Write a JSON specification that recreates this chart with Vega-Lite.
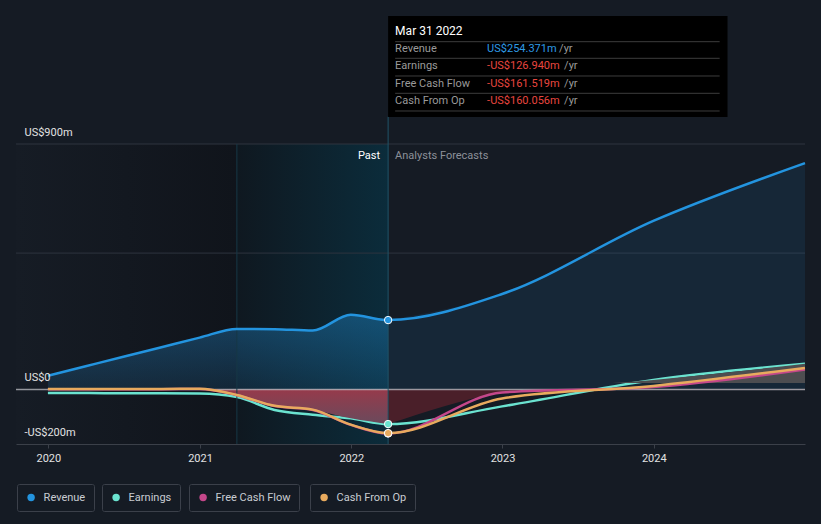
{
  "$schema": "https://vega.github.io/schema/vega-lite/v6.json",
  "width": 789,
  "height": 300,
  "autosize": {"type": "none"},
  "padding": {"left": 16, "top": 144, "right": 16, "bottom": 80},
  "background": "#151b24",
  "config": {
    "font": "Roboto",
    "view": {"stroke": null},
    "legend": {
      "orient": "none",
      "direction": "horizontal",
      "title": null,
      "symbolType": "circle",
      "symbolSize": 55,
      "symbolStrokeWidth": 0,
      "labelColor": "#c8ccd2",
      "labelFontSize": 11,
      "labelFont": "Roboto",
      "labelExpr": "datum.label + ' '",
      "strokeColor": "#3b404a",
      "padding": 8,
      "cornerRadius": 2,
      "symbolOffset": 0.6,
      "labelOffset": 7,
      "legendY": 340
    }
  },
  "datasets": {
    "fin": [
      {"series": "Revenue", "date": "2019-12-31", "value": 50},
      {"series": "Revenue", "date": "2020-03-31", "value": 85},
      {"series": "Revenue", "date": "2020-06-30", "value": 120},
      {"series": "Revenue", "date": "2020-09-30", "value": 155},
      {"series": "Revenue", "date": "2020-12-31", "value": 190},
      {"series": "Revenue", "date": "2021-03-31", "value": 222},
      {"series": "Revenue", "date": "2021-06-30", "value": 221},
      {"series": "Revenue", "date": "2021-09-30", "value": 216},
      {"series": "Revenue", "date": "2021-12-31", "value": 274},
      {"series": "Revenue", "date": "2022-03-31", "value": 254.371},
      {"series": "Revenue", "date": "2022-12-31", "value": 350},
      {"series": "Revenue", "date": "2023-12-31", "value": 618},
      {"series": "Revenue", "date": "2024-12-31", "value": 830},
      {"series": "Earnings", "date": "2019-12-31", "value": -13},
      {"series": "Earnings", "date": "2020-03-31", "value": -13},
      {"series": "Earnings", "date": "2020-06-30", "value": -14},
      {"series": "Earnings", "date": "2020-09-30", "value": -14},
      {"series": "Earnings", "date": "2020-12-31", "value": -15},
      {"series": "Earnings", "date": "2021-03-31", "value": -28},
      {"series": "Earnings", "date": "2021-06-30", "value": -75},
      {"series": "Earnings", "date": "2021-09-30", "value": -93},
      {"series": "Earnings", "date": "2021-12-31", "value": -106},
      {"series": "Earnings", "date": "2022-03-31", "value": -126.94},
      {"series": "Earnings", "date": "2022-12-31", "value": -62},
      {"series": "Earnings", "date": "2023-12-31", "value": 35},
      {"series": "Earnings", "date": "2024-12-31", "value": 94},
      {"series": "Free Cash Flow", "date": "2019-12-31", "value": 1},
      {"series": "Free Cash Flow", "date": "2020-03-31", "value": 1},
      {"series": "Free Cash Flow", "date": "2020-06-30", "value": 1},
      {"series": "Free Cash Flow", "date": "2020-09-30", "value": 1},
      {"series": "Free Cash Flow", "date": "2020-12-31", "value": 2},
      {"series": "Free Cash Flow", "date": "2021-03-31", "value": -21},
      {"series": "Free Cash Flow", "date": "2021-06-30", "value": -61},
      {"series": "Free Cash Flow", "date": "2021-09-30", "value": -75},
      {"series": "Free Cash Flow", "date": "2021-12-31", "value": -130},
      {"series": "Free Cash Flow", "date": "2022-03-31", "value": -161.519},
      {"series": "Free Cash Flow", "date": "2022-12-31", "value": -11},
      {"series": "Free Cash Flow", "date": "2023-12-31", "value": 9},
      {"series": "Free Cash Flow", "date": "2024-12-31", "value": 73},
      {"series": "Cash From Op", "date": "2019-12-31", "value": 2},
      {"series": "Cash From Op", "date": "2020-03-31", "value": 2},
      {"series": "Cash From Op", "date": "2020-06-30", "value": 2},
      {"series": "Cash From Op", "date": "2020-09-30", "value": 2},
      {"series": "Cash From Op", "date": "2020-12-31", "value": 3},
      {"series": "Cash From Op", "date": "2021-03-31", "value": -20},
      {"series": "Cash From Op", "date": "2021-06-30", "value": -60},
      {"series": "Cash From Op", "date": "2021-09-30", "value": -74},
      {"series": "Cash From Op", "date": "2021-12-31", "value": -129},
      {"series": "Cash From Op", "date": "2022-03-31", "value": -160.056},
      {"series": "Cash From Op", "date": "2022-12-31", "value": -33},
      {"series": "Cash From Op", "date": "2023-12-31", "value": 13},
      {"series": "Cash From Op", "date": "2024-12-31", "value": 79}
    ],
    "tip": [
      {"row": 1, "label": "Revenue", "val": "US$254.371m"},
      {"row": 2, "label": "Earnings", "val": "-US$126.940m"},
      {"row": 3, "label": "Free Cash Flow", "val": "-US$161.519m"},
      {"row": 4, "label": "Cash From Op", "val": "-US$160.056m"}
    ]
  },
  "layer": [
    {
      "data": {"name": "fin"},
      "layer": [
        {
          "data": {"values": [{}]},
          "mark": {"type": "rect", "fill": {"gradient": "linear", "x1": 0, "y1": 0, "x2": 1, "y2": 0, "stops": [{"offset": 0, "color": "#161c25"}, {"offset": 1, "color": "#10141b"}]}},
          "encoding": {
            "x": {"datum": {"year": 2019, "month": 10, "date": 15, "utc": true}, "type": "temporal"},
            "x2": {"datum": {"year": 2021, "month": 3, "date": 31, "utc": true}},
            "y": {"datum": 900, "type": "quantitative"},
            "y2": {"datum": -200}
          }
        },
        {
          "data": {"values": [{}]},
          "mark": {"type": "rect", "fill": {"gradient": "linear", "x1": 0, "y1": 0, "x2": 1, "y2": 0, "stops": [{"offset": 0, "color": "#0f1820"}, {"offset": 1, "color": "#0b2c3b"}]}},
          "encoding": {
            "x": {"datum": {"year": 2021, "month": 3, "date": 31, "utc": true}, "type": "temporal"},
            "x2": {"datum": {"year": 2022, "month": 3, "date": 31, "utc": true}},
            "y": {"datum": 900, "type": "quantitative"},
            "y2": {"datum": -200}
          }
        },
        {
          "data": {"values": [{}]},
          "mark": {"type": "rule", "color": "#2e343e", "strokeWidth": 1},
          "encoding": {"y": {"datum": 900, "type": "quantitative"}}
        },
        {
          "data": {"values": [{}]},
          "mark": {"type": "rule", "color": "#2e343e", "strokeWidth": 1},
          "encoding": {"y": {"datum": 500, "type": "quantitative"}}
        },
        {
          "transform": [{"filter": {"and": [{"field": "series", "equal": "Revenue"}, {"field": "date", "lte": {"year": 2022, "month": 3, "date": 31, "utc": true}}]}}],
          "mark": {"type": "area", "interpolate": "monotone", "fill": {"gradient": "linear", "x1": 0, "y1": 0, "x2": 0, "y2": 1, "stops": [{"offset": 0, "color": "rgba(35,148,223,0.36)"}, {"offset": 1, "color": "rgba(35,148,223,0.14)"}]}},
          "encoding": {
            "x": {"field": "date", "type": "temporal"},
            "y": {"field": "value", "type": "quantitative"}
          }
        },
        {
          "transform": [{"filter": {"and": [{"field": "series", "equal": "Revenue"}, {"field": "date", "gte": {"year": 2022, "month": 3, "date": 31, "utc": true}}]}}],
          "mark": {"type": "area", "interpolate": "monotone", "fill": "#2394df", "fillOpacity": 0.1},
          "encoding": {
            "x": {"field": "date", "type": "temporal"},
            "y": {"field": "value", "type": "quantitative"}
          }
        },
        {
          "transform": [{"filter": {"field": "series", "equal": "Earnings"}}],
          "mark": {"type": "line", "interpolate": "monotone", "strokeWidth": 2.5},
          "encoding": {
            "x": {"field": "date", "type": "temporal"},
            "y": {"field": "value", "type": "quantitative"},
            "color": {"datum": "Earnings", "scale": {"range": ["#6be3d0"]}, "legend": {"legendX": 86, "symbolFillColor": "#6be3d0"}}
          }
        },
        {
          "transform": [
            {"filter": {"and": [{"not": {"field": "series", "equal": "Revenue"}}, {"field": "date", "lte": {"year": 2022, "month": 3, "date": 31, "utc": true}}]}},
            {"aggregate": [{"op": "max", "field": "value", "as": "value"}], "groupby": ["date"]}
          ],
          "mark": {"type": "area", "interpolate": "monotone", "opacity": 1, "fill": {"gradient": "linear", "x1": 0, "y1": 0, "x2": 0, "y2": 1, "stops": [{"offset": 0, "color": "#973a4b"}, {"offset": 1, "color": "#6a4a5c"}]}},
          "encoding": {
            "x": {"field": "date", "type": "temporal"},
            "y": {"field": "value", "type": "quantitative"}
          }
        },
        {
          "transform": [
            {"filter": {"and": [{"not": {"field": "series", "equal": "Revenue"}}, {"field": "date", "gte": {"year": 2022, "month": 3, "date": 31, "utc": true}}]}},
            {"aggregate": [{"op": "max", "field": "value", "as": "value"}], "groupby": ["date"]}
          ],
          "mark": {"type": "area", "interpolate": "monotone", "fill": {"gradient": "linear", "x1": 0, "y1": 0, "x2": 0, "y2": 1, "stops": [{"offset": 0, "color": "rgba(0,0,0,0)"}, {"offset": 0.4255, "color": "rgba(0,0,0,0)"}, {"offset": 0.4255, "color": "#4a1f29"}, {"offset": 1, "color": "#4a1f29"}]}},
          "encoding": {
            "x": {"field": "date", "type": "temporal"},
            "y": {"field": "value", "type": "quantitative"}
          }
        },
        {
          "transform": [
            {"filter": {"and": [{"not": {"field": "series", "equal": "Revenue"}}, {"field": "date", "gte": {"year": 2022, "month": 3, "date": 31, "utc": true}}]}},
            {"aggregate": [{"op": "min", "field": "value", "as": "value"}], "groupby": ["date"]}
          ],
          "mark": {"type": "area", "interpolate": "monotone", "fill": {"gradient": "linear", "x1": 0, "y1": 0, "x2": 0, "y2": 1, "stops": [{"offset": 0, "color": "#4d4d50"}, {"offset": 0.311, "color": "#4d4d50"}, {"offset": 0.311, "color": "rgba(0,0,0,0)"}, {"offset": 1, "color": "rgba(0,0,0,0)"}]}},
          "encoding": {
            "x": {"field": "date", "type": "temporal"},
            "y": {"field": "value", "type": "quantitative"}
          }
        },
        {
          "data": {"values": [{}]},
          "mark": {"type": "rule", "color": "#d8d8dd", "opacity": 0.65, "strokeWidth": 1.5},
          "encoding": {"y": {"datum": 0, "type": "quantitative"}}
        },
        {
          "data": {"values": [{}]},
          "mark": {"type": "rule", "color": "#173846", "strokeWidth": 1},
          "encoding": {
            "x": {"datum": {"year": 2021, "month": 3, "date": 31, "utc": true}, "type": "temporal"},
            "y": {"datum": -200, "type": "quantitative"},
            "y2": {"datum": 900}
          }
        },
        {
          "data": {"values": [{}]},
          "mark": {"type": "rule", "color": "#1f5468", "strokeWidth": 1},
          "encoding": {
            "x": {"datum": {"year": 2022, "month": 3, "date": 31, "utc": true}, "type": "temporal"},
            "y": {"datum": -200, "type": "quantitative", "scale": {"domain": [-200, 900]}},
            "y2": {"datum": 1000}
          }
        },
        {
          "transform": [{"filter": {"field": "series", "equal": "Revenue"}}],
          "mark": {"type": "line", "interpolate": "monotone", "strokeWidth": 2.5},
          "encoding": {
            "x": {
              "field": "date", "type": "temporal",
              "scale": {"type": "utc", "domain": [{"year": 2019, "month": 10, "date": 15, "utc": true}, {"year": 2024, "month": 12, "date": 31, "utc": true}]},
              "axis": {"title": null, "format": "%Y", "tickCount": {"interval": "year", "step": 1}, "grid": false, "domainColor": "#3b4049", "tickColor": "#3b4049", "tickSize": 4, "labelColor": "#e2e2e2", "labelFontSize": 11, "labelPadding": 4, "labelFlush": false}
            },
            "y": {
              "field": "value", "type": "quantitative",
              "scale": {"domain": [-200, 900], "nice": false, "zero": false},
              "axis": {"title": null, "values": [-200, 0, 900], "labelExpr": "datum.value == 0 ? 'US$0' : (datum.value < 0 ? '-US$' + (-datum.value) + 'm' : 'US$' + datum.value + 'm')", "grid": false, "domain": false, "ticks": false, "tickSize": 0, "labelAlign": "left", "labelBaseline": "bottom", "labelPadding": -8, "labelOffset": -7, "labelColor": "#e2e2e2", "labelFontSize": 11, "zindex": 1}
            },
            "color": {"datum": "Revenue", "scale": {"range": ["#2394df"]}, "legend": {"legendX": 1, "symbolFillColor": "#2394df"}}
          }
        },
        {
          "transform": [{"filter": {"field": "series", "equal": "Free Cash Flow"}}],
          "mark": {"type": "line", "interpolate": "monotone", "strokeWidth": 2.5},
          "encoding": {
            "x": {"field": "date", "type": "temporal"},
            "y": {"field": "value", "type": "quantitative"},
            "color": {"datum": "Free Cash Flow", "scale": {"range": ["#c4478a"]}, "legend": {"legendX": 173, "symbolFillColor": "#c4478a"}}
          }
        },
        {
          "transform": [{"filter": {"field": "series", "equal": "Cash From Op"}}],
          "mark": {"type": "line", "interpolate": "monotone", "strokeWidth": 2.5},
          "encoding": {
            "x": {"field": "date", "type": "temporal"},
            "y": {"field": "value", "type": "quantitative"},
            "color": {"datum": "Cash From Op", "scale": {"range": ["#e8aa5e"]}, "legend": {"legendX": 294, "symbolFillColor": "#e8aa5e"}}
          }
        },
        {
          "transform": [{"filter": {"field": "date", "equal": {"year": 2022, "month": 3, "date": 31, "utc": true}}}],
          "mark": {"type": "point", "filled": true, "size": 55, "stroke": "#ffffff", "strokeWidth": 1, "opacity": 1},
          "encoding": {
            "x": {"field": "date", "type": "temporal"},
            "y": {"field": "value", "type": "quantitative"},
            "color": {"field": "series", "type": "nominal", "scale": {"domain": ["Revenue", "Earnings", "Free Cash Flow", "Cash From Op"], "range": ["#2394df", "#6be3d0", "#c4478a", "#e8aa5e"]}, "legend": null}
          }
        },
        {
          "data": {"values": [{}]},
          "mark": {"type": "text", "text": "Past", "align": "right", "baseline": "middle", "dx": -8, "fontSize": 11, "color": "#ffffff"},
          "encoding": {
            "x": {"datum": {"year": 2022, "month": 3, "date": 31, "utc": true}, "type": "temporal"},
            "y": {"datum": 857, "type": "quantitative"}
          }
        },
        {
          "data": {"values": [{}]},
          "mark": {"type": "text", "text": "Analysts Forecasts", "align": "left", "baseline": "middle", "dx": 7, "fontSize": 11, "color": "#8c9099"},
          "encoding": {
            "x": {"datum": {"year": 2022, "month": 3, "date": 31, "utc": true}, "type": "temporal"},
            "y": {"datum": 857, "type": "quantitative"}
          }
        }
      ],
      "resolve": {"scale": {"color": "independent"}}
    },
    {
      "data": {"name": "tip"},
      "layer": [
        {
          "data": {"values": [{}]},
          "mark": {"type": "rect", "fill": "#000000"},
          "encoding": {
            "x": {"datum": {"year": 2022, "month": 3, "date": 31, "utc": true}, "type": "temporal"},
            "x2": {"datum": {"year": 2024, "month": 6, "date": 27, "utc": true}},
            "y": {"datum": -0.857, "type": "quantitative", "scale": {"domain": [0, 4], "range": [-113, -43]}, "axis": null},
            "y2": {"datum": 4.914}
          }
        },
        {"data": {"values": [{}]}, "mark": {"type": "rule", "color": "#3d3d3d", "strokeWidth": 1}, "encoding": {"x": {"datum": {"year": 2022, "month": 4, "date": 17, "utc": true}, "type": "temporal"}, "x2": {"datum": {"year": 2024, "month": 6, "date": 8, "utc": true}}, "y": {"datum": 0.611, "type": "quantitative", "axis": null}}},
        {"data": {"values": [{}]}, "mark": {"type": "rule", "color": "#3d3d3d", "strokeWidth": 1}, "encoding": {"x": {"datum": {"year": 2022, "month": 4, "date": 17, "utc": true}, "type": "temporal"}, "x2": {"datum": {"year": 2024, "month": 6, "date": 8, "utc": true}}, "y": {"datum": 1.56, "type": "quantitative", "axis": null}}},
        {"data": {"values": [{}]}, "mark": {"type": "rule", "color": "#3d3d3d", "strokeWidth": 1}, "encoding": {"x": {"datum": {"year": 2022, "month": 4, "date": 17, "utc": true}, "type": "temporal"}, "x2": {"datum": {"year": 2024, "month": 6, "date": 8, "utc": true}}, "y": {"datum": 2.571, "type": "quantitative", "axis": null}}},
        {"data": {"values": [{}]}, "mark": {"type": "rule", "color": "#3d3d3d", "strokeWidth": 1}, "encoding": {"x": {"datum": {"year": 2022, "month": 4, "date": 17, "utc": true}, "type": "temporal"}, "x2": {"datum": {"year": 2024, "month": 6, "date": 8, "utc": true}}, "y": {"datum": 3.56, "type": "quantitative", "axis": null}}},
        {"data": {"values": [{}]}, "mark": {"type": "rule", "color": "#3d3d3d", "strokeWidth": 1}, "encoding": {"x": {"datum": {"year": 2022, "month": 4, "date": 17, "utc": true}, "type": "temporal"}, "x2": {"datum": {"year": 2024, "month": 6, "date": 8, "utc": true}}, "y": {"datum": 4.571, "type": "quantitative", "axis": null}}},
        {
          "data": {"values": [{}]},
          "mark": {"type": "text", "text": "Mar 31 2022", "align": "left", "baseline": "middle", "dx": 7, "fontSize": 12, "color": "#ffffff"},
          "encoding": {
            "x": {"datum": {"year": 2022, "month": 3, "date": 31, "utc": true}, "type": "temporal"},
            "y": {"datum": 0, "type": "quantitative", "axis": null}
          }
        },
        {
          "mark": {"type": "text", "align": "left", "baseline": "middle", "dx": 7, "fontSize": 11, "color": "#9a9a9a"},
          "encoding": {
            "x": {"datum": {"year": 2022, "month": 3, "date": 31, "utc": true}, "type": "temporal"},
            "y": {"field": "row", "type": "quantitative", "axis": null},
            "text": {"field": "label"}
          }
        },
        {
          "mark": {"type": "text", "align": "left", "baseline": "middle", "dx": 99, "fontSize": 11},
          "encoding": {
            "x": {"datum": {"year": 2022, "month": 3, "date": 31, "utc": true}, "type": "temporal"},
            "y": {"field": "row", "type": "quantitative", "axis": null},
            "text": {"field": "val"},
            "color": {"condition": {"test": "datum.row == 1", "value": "#2e9be6"}, "value": "#e8463f"}
          }
        },
        {
          "transform": [{"filter": {"field": "row", "equal": 1}}],
          "mark": {"type": "text", "align": "left", "baseline": "middle", "dx": 171, "fontSize": 11, "color": "#9a9a9a", "text": "/yr"},
          "encoding": {
            "x": {"datum": {"year": 2022, "month": 3, "date": 31, "utc": true}, "type": "temporal"},
            "y": {"field": "row", "type": "quantitative", "axis": null}
          }
        },
        {
          "transform": [{"filter": {"field": "row", "gt": 1}}],
          "mark": {"type": "text", "align": "left", "baseline": "middle", "dx": 176, "fontSize": 11, "color": "#9a9a9a", "text": "/yr"},
          "encoding": {
            "x": {"datum": {"year": 2022, "month": 3, "date": 31, "utc": true}, "type": "temporal"},
            "y": {"field": "row", "type": "quantitative", "axis": null}
          }
        }
      ]
    }
  ],
  "resolve": {"scale": {"y": "independent"}}
}
